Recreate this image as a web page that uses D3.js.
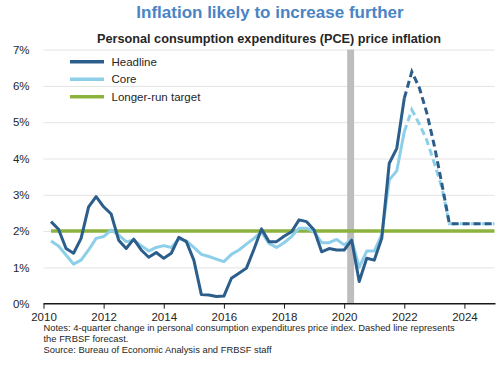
<!DOCTYPE html>
<html>
<head>
<meta charset="utf-8">
<script src="https://cdn.jsdelivr.net/npm/d3@7"></script>
<style>
  html, body { margin: 0; padding: 0; background: #ffffff; }
  svg { display: block; font-family: "Liberation Sans", Arial, sans-serif; }
</style>
</head>
<body>
<svg id="chart" width="500" height="365"></svg>
<script>
// ---- Data (quarterly, 4-quarter % change; Q1 plotted at year+0.25) ----
const quarters = [
  2010.25, 2010.5, 2010.75, 2011.0,
  2011.25, 2011.5, 2011.75, 2012.0,
  2012.25, 2012.5, 2012.75, 2013.0,
  2013.25, 2013.5, 2013.75, 2014.0,
  2014.25, 2014.5, 2014.75, 2015.0,
  2015.25, 2015.5, 2015.75, 2016.0,
  2016.25, 2016.5, 2016.75, 2017.0,
  2017.25, 2017.5, 2017.75, 2018.0,
  2018.25, 2018.5, 2018.75, 2019.0,
  2019.25, 2019.5, 2019.75, 2020.0,
  2020.25, 2020.5, 2020.75, 2021.0,
  2021.25, 2021.5, 2021.75, 2022.0
];
const headline = [
  2.26, 2.05, 1.52, 1.39,
  1.80, 2.67, 2.95, 2.67,
  2.47, 1.75, 1.52, 1.78,
  1.48, 1.28, 1.41, 1.25,
  1.39, 1.83, 1.71, 1.20,
  0.25, 0.24, 0.20, 0.21,
  0.70, 0.84, 0.98, 1.50,
  2.06, 1.71, 1.71, 1.86,
  1.98, 2.31, 2.26, 2.03,
  1.43, 1.52, 1.48, 1.48,
  1.75, 0.61, 1.25, 1.20,
  1.80, 3.87, 4.28, 5.66
];
const core = [
  1.73, 1.59, 1.34, 1.09,
  1.20, 1.48, 1.80, 1.85,
  2.03, 1.89, 1.71, 1.75,
  1.60, 1.45, 1.55, 1.60,
  1.55, 1.78, 1.73, 1.55,
  1.36, 1.30, 1.23, 1.16,
  1.36, 1.48, 1.64, 1.80,
  1.98, 1.66, 1.55, 1.68,
  1.85, 2.08, 2.08, 1.98,
  1.68, 1.68, 1.77, 1.62,
  1.77, 1.00, 1.45, 1.45,
  1.90, 3.41, 3.66, 4.74
];
// FRBSF forecast (dashed), starting from last actual quarter
const forecastQuarters = [
  2022.0, 2022.25, 2022.5, 2022.75, 2023.0, 2023.25, 2023.5,
  2023.75, 2024.0, 2024.25, 2024.5, 2024.75, 2025.0
];
const headlineForecast = [5.66, 6.39, 5.95, 5.25, 4.35, 3.30, 2.20, 2.20, 2.20, 2.20, 2.20, 2.20, 2.20];
const coreForecast     = [4.74, 5.34, 4.95, 4.50, 3.87, 3.20, 2.20, 2.20, 2.20, 2.20, 2.20, 2.20, 2.20];
// Longer-run target
const targetYears = [2010.25, 2025.0];
const targetValues = [2, 2];
// Recession shading (Feb 2020 - Apr 2020)
const recession = [2020.1, 2020.33];
// Axis ticks
const xTicks = [2010, 2012, 2014, 2016, 2018, 2020, 2022, 2024];
const yTicks = [0, 1, 2, 3, 4, 5, 6, 7];
const legendLabels = ["Headline", "Core", "Longer-run target"];
const titleText = "Inflation likely to increase further";
const subtitleText = "Personal consumption expenditures (PCE) price inflation";
const notesLines = [
  "Notes: 4-quarter change in personal consumption expenditures price index. Dashed line represents",
  "the FRBSF forecast.",
  "Source: Bureau of Economic Analysis and FRBSF staff"
];

(function () {
// ---- Styles ----
const C_HEAD = "#2c5e8c";
const C_CORE = "#8dcfe9";
const C_TARGET = "#8db33f";
const C_TITLE = "#4a84c4";
const C_TEXT = "#262626";

const svg = d3.select("#chart");
const pL = 43.5, pR = 494.5, pT = 49.6, pB = 303.7;

const x = d3.scaleLinear().domain([2010, 2025]).range([pL, pR]);
const y = d3.scaleLinear().domain([0, 7]).range([pB, pT]);

// Title
svg.append("text").attr("x", 270).attr("y", 17.5).attr("text-anchor", "middle")
  .attr("font-size", 17).attr("font-weight", "bold").attr("fill", C_TITLE).text(titleText);
svg.append("text").attr("x", 269).attr("y", 42.7).attr("text-anchor", "middle")
  .attr("font-size", 12.7).attr("font-weight", "bold").attr("fill", C_TEXT).text(subtitleText);

// Gridlines
const grid = svg.append("g").attr("transform", `translate(${pL},0)`)
  .call(d3.axisLeft(y).tickValues(yTicks.filter(d => d > 0)).tickSize(-(pR - pL)).tickFormat(""));
grid.select(".domain").remove();
grid.selectAll("line").attr("stroke", "#e3e3e3").attr("stroke-width", 1);

// Y labels
const yAx = svg.append("g").attr("transform", `translate(${pL},0)`)
  .call(d3.axisLeft(y).tickValues(yTicks).tickSize(0).tickPadding(14).tickFormat(d => d + "%"));
yAx.select(".domain").remove();
yAx.selectAll("text").attr("font-size", 11.5).attr("fill", C_TEXT)
  .attr("font-family", "Liberation Sans, Arial, sans-serif");

// Recession bar
svg.append("rect").attr("x", x(recession[0])).attr("y", y(7))
  .attr("width", x(recession[1]) - x(recession[0])).attr("height", y(0) - y(7))
  .attr("fill", "#bdbdbd");

// X axis
const xAx = svg.append("g").attr("transform", `translate(0,${pB})`)
  .call(d3.axisBottom(x).tickValues(xTicks).tickSize(5).tickPadding(4).tickFormat(d3.format("d")));
xAx.select(".domain").attr("stroke", "#1a1a1a").attr("stroke-width", 1.5)
  .attr("d", `M${pL},0H${pR + 1}`);
xAx.selectAll("line").attr("stroke", "#1a1a1a").attr("stroke-width", 1);
xAx.selectAll("text").attr("font-size", 11.5).attr("fill", C_TEXT)
  .attr("font-family", "Liberation Sans, Arial, sans-serif");

// Lines
const line = d3.line().x(d => x(d[0])).y(d => y(d[1]));
const zip = (a, b) => a.map((v, i) => [v, b[i]]);

svg.append("path").datum(zip(targetYears, targetValues)).attr("d", line)
  .attr("fill", "none").attr("stroke", C_TARGET).attr("stroke-width", 3.5);

svg.append("path").datum(zip(quarters, core)).attr("d", line)
  .attr("fill", "none").attr("stroke", C_CORE).attr("stroke-width", 3).attr("stroke-linejoin", "round");
svg.append("path").datum(zip(forecastQuarters, coreForecast)).attr("d", line)
  .attr("fill", "none").attr("stroke", C_CORE).attr("stroke-width", 3).attr("stroke-dasharray", "7,4");

svg.append("path").datum(zip(quarters, headline)).attr("d", line)
  .attr("fill", "none").attr("stroke", C_HEAD).attr("stroke-width", 3).attr("stroke-linejoin", "round");
svg.append("path").datum(zip(forecastQuarters, headlineForecast)).attr("d", line)
  .attr("fill", "none").attr("stroke", C_HEAD).attr("stroke-width", 3).attr("stroke-dasharray", "7,4");

// Legend
const legColors = [C_HEAD, C_CORE, C_TARGET];
const leg = svg.append("g");
legendLabels.forEach((lab, i) => {
  const ly = 61.7 + i * 17.5;
  leg.append("line").attr("x1", 70).attr("x2", 104).attr("y1", ly).attr("y2", ly)
    .attr("stroke", legColors[i]).attr("stroke-width", 3.5);
  leg.append("text").attr("x", 111.5).attr("y", ly + 4).attr("font-size", 11.5)
    .attr("fill", C_TEXT).text(lab);
});

// Notes
notesLines.forEach((t, i) => {
  svg.append("text").attr("x", 43.5).attr("y", 331 + i * 11).attr("font-size", 9.4)
    .attr("fill", C_TEXT).text(t);
});
})();
</script>
</body>
</html>
